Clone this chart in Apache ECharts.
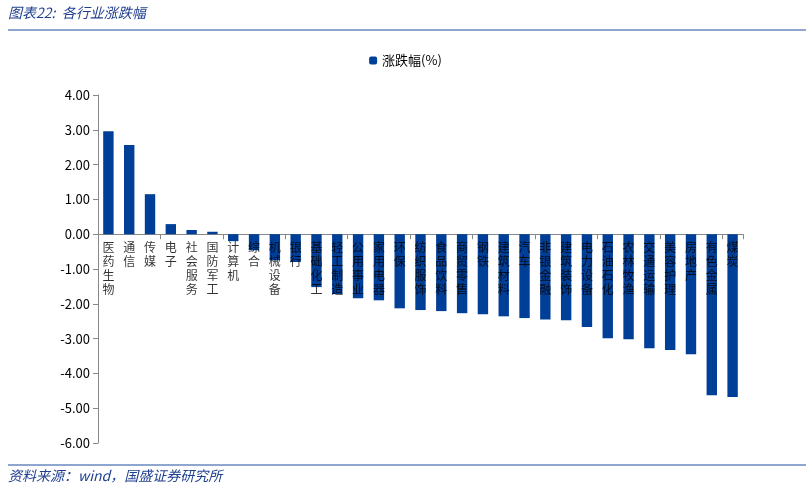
<!DOCTYPE html>
<html><head><meta charset="utf-8">
<script src="https://cdn.jsdelivr.net/npm/echarts@6/dist/echarts.min.js"></script>
<style>body{margin:0;background:#fff}#c{width:811px;height:492px}</style>
</head><body><div id="c"></div>
<script>
// 行业名称
const industries = ['医药生物','通信','传媒','电子','社会服务','国防军工','计算机','综合','机械设备','银行','基础化工','轻工制造','公用事业','家用电器','环保','纺织服饰','食品饮料','商贸零售','钢铁','建筑材料','汽车','非银金融','建筑装饰','电力设备','石油石化','农林牧渔','交通运输','美容护理','房地产','有色金属','煤炭'];
// 涨跌幅(%)
const changes = [2.96,2.56,1.15,0.29,0.12,0.07,-0.2,-0.46,-0.75,-0.8,-1.52,-1.72,-1.84,-1.9,-2.13,-2.18,-2.21,-2.27,-2.3,-2.36,-2.41,-2.45,-2.47,-2.67,-2.99,-3.02,-3.28,-3.33,-3.45,-4.63,-4.68];

const chart = echarts.init(document.getElementById('c'));
chart.setOption({
    animation: false,
    textStyle: { fontFamily: 'Noto Sans CJK SC' },
    graphic: [
        { type: 'text', left: 8, top: 6, style: { text: '图表22:  各行业涨跌幅', font: 'italic 14px "Noto Sans CJK SC"', fill: '#1f3f8f' } },
        { type: 'line', shape: { x1: 8, y1: 30, x2: 806, y2: 30 }, style: { stroke: '#1f4e9f', lineWidth: 1 } },
        { type: 'line', shape: { x1: 8, y1: 465, x2: 806, y2: 465 }, style: { stroke: '#1f4e9f', lineWidth: 1 } },
        { type: 'text', left: 8, top: 469, style: { text: '资料来源：wind，国盛证券研究所', font: 'italic 14px "Noto Sans CJK SC"', fill: '#1f3f8f' } }
    ],
    legend: {
        top: 49, left: 'center', itemWidth: 8, itemHeight: 8,
        textStyle: { fontSize: 13, color: '#000' },
        data: ['涨跌幅(%)']
    },
    grid: { left: 98, right: 68, top: 95, bottom: 49, containLabel: false, outerBoundsMode: 'none' },
    xAxis: {
        type: 'category', data: industries,
        axisLine: { onZero: true, lineStyle: { color: '#888' } },
        axisTick: { show: true, length: 5, lineStyle: { color: '#888' } },
        axisLabel: { show: false }
    },
    yAxis: {
        type: 'value', min: -6, max: 4, interval: 1,
        splitLine: { show: false },
        axisLine: { show: true, lineStyle: { color: '#888' } },
        axisTick: { show: true, lineStyle: { color: '#888' } },
        axisLabel: { color: '#000', fontSize: 13, formatter: v => v.toFixed(2) }
    },
    series: [{
        name: '涨跌幅(%)', type: 'bar', data: changes, barWidth: '50%',
        itemStyle: { color: '#003f98' }
    }, {
        name: 'labels', type: 'scatter', symbolSize: 0, silent: true,
        data: industries.map(() => 0), z: 5,
        label: {
            show: true, position: 'bottom', distance: 6, color: '#000',
            fontSize: 12, lineHeight: 14,
            formatter: p => industries[p.dataIndex].split('').join('\n')
        }
    }]
});
</script></body></html>
